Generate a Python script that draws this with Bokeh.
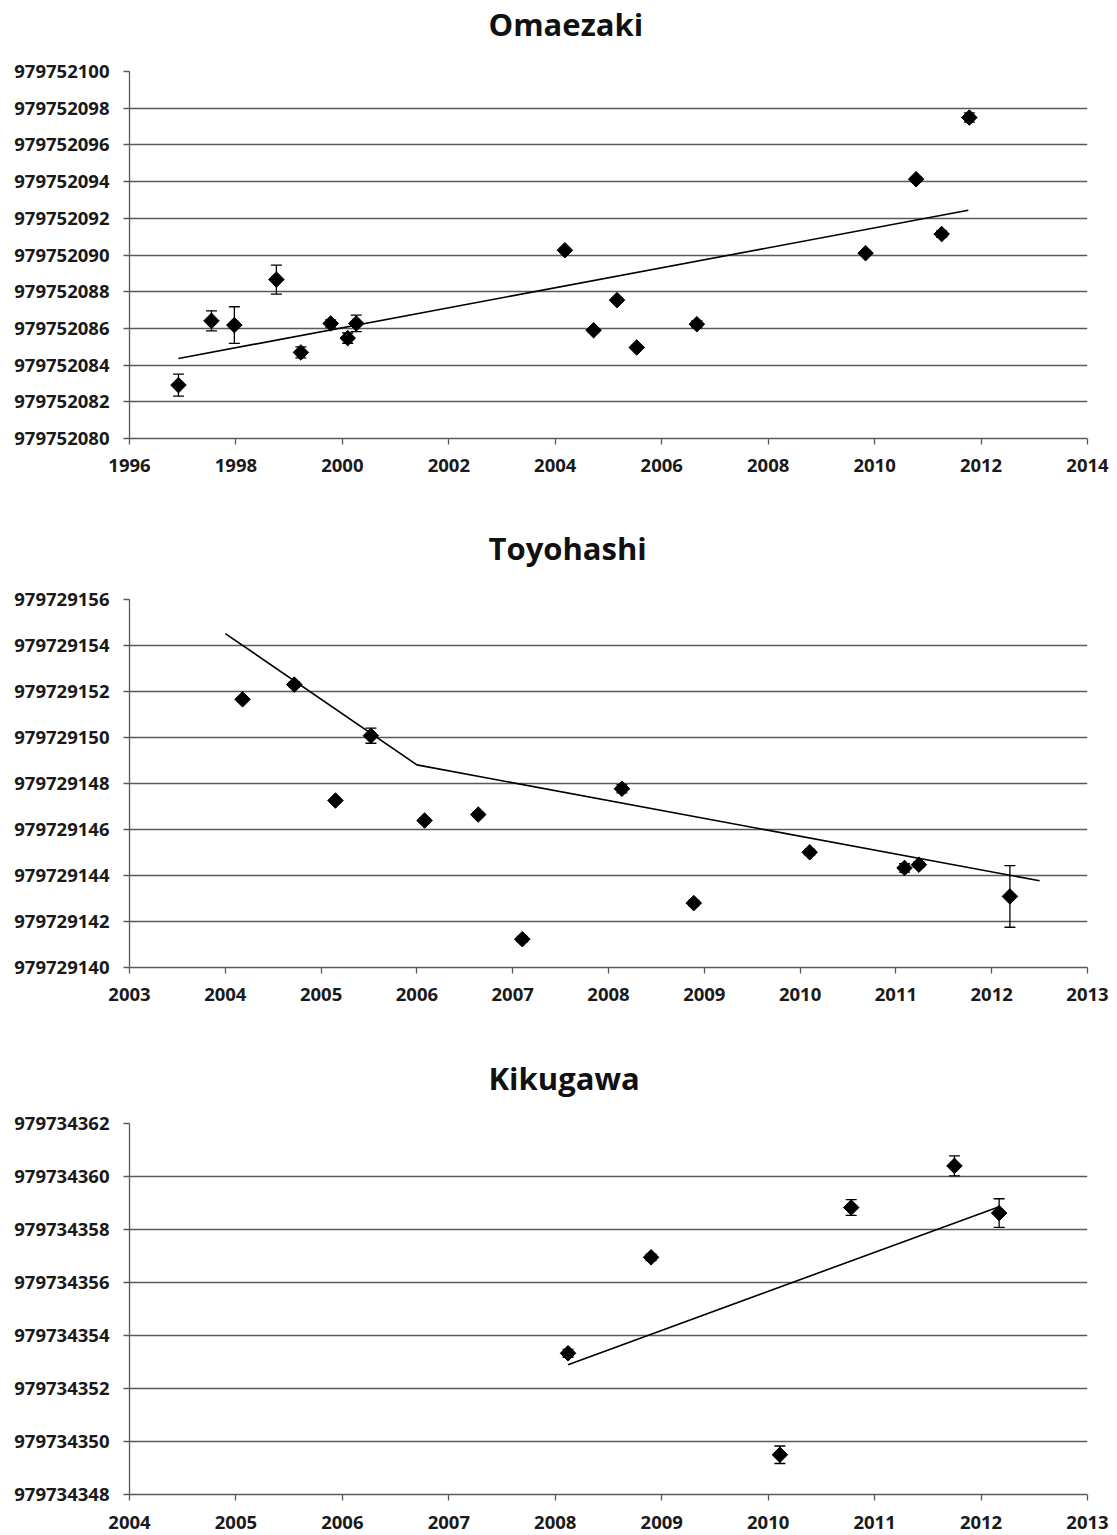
import numpy as np
from bokeh.plotting import figure
from bokeh.layouts import column
from bokeh.models import (Range1d, FixedTicker, NumeralTickFormatter, Whisker,
                          TeeHead, ColumnDataSource, LinearAxis)
from bokeh.embed import file_html
from bokeh.resources import INLINE

# ---------------- data ----------------
# Omaezaki
omaezaki_year = [1996.92, 1997.54, 1997.97, 1998.76, 1999.22, 1999.78, 2000.10, 2000.26,
                 2004.18, 2004.72, 2005.16, 2005.53, 2006.66, 2009.83, 2010.78, 2011.26, 2011.78]
omaezaki_g = [979752082.91, 979752086.41, 979752086.18, 979752088.66, 979752084.69,
              979752086.27, 979752085.47, 979752086.27, 979752090.26, 979752085.90,
              979752087.54, 979752084.96, 979752086.23, 979752090.10, 979752094.13,
              979752091.14, 979752097.49]
omaezaki_err = [0.60, 0.55, 1.00, 0.79, 0.30, 0.20, 0.28, 0.45, 0.12, 0.10,
                0.12, 0.10, 0.18, 0.12, 0.12, 0.18, 0.25]
omaezaki_fit_year = [1996.92, 2011.76]
omaezaki_fit_g = [979752084.36, 979752092.44]
omaezaki_xticks = [1996, 1998, 2000, 2002, 2004, 2006, 2008, 2010, 2012, 2014]
omaezaki_yticks = [979752080, 979752082, 979752084, 979752086, 979752088, 979752090,
                   979752092, 979752094, 979752096, 979752098, 979752100]

# Toyohashi
toyohashi_year = [2004.18, 2004.72, 2005.15, 2005.52, 2006.08, 2006.64, 2007.10,
                  2008.14, 2008.89, 2010.10, 2011.09, 2011.24, 2012.19]
toyohashi_g = [979729151.66, 979729152.30, 979729147.26, 979729150.08, 979729146.39,
               979729146.65, 979729141.23, 979729147.77, 979729142.80, 979729145.01,
               979729144.33, 979729144.47, 979729143.09]
toyohashi_err = [0.10, 0.12, 0.10, 0.33, 0.10, 0.10, 0.12, 0.18, 0.12, 0.12, 0.18, 0.12, 1.34]
toyohashi_fit_year = [2004.0, 2006.0, 2012.5]
toyohashi_fit_g = [979729154.52, 979729148.81, 979729143.77]
toyohashi_xticks = [2003, 2004, 2005, 2006, 2007, 2008, 2009, 2010, 2011, 2012, 2013]
toyohashi_yticks = [979729140, 979729142, 979729144, 979729146, 979729148,
                    979729150, 979729152, 979729154, 979729156]

# Kikugawa
kikugawa_year = [2008.12, 2008.90, 2010.11, 2010.78, 2011.75, 2012.17]
kikugawa_g = [979734353.33, 979734356.95, 979734349.50, 979734358.83, 979734360.40, 979734358.62]
kikugawa_err = [0.15, 0.12, 0.33, 0.30, 0.38, 0.54]
kikugawa_fit_year = [2008.12, 2012.17]
kikugawa_fit_g = [979734352.90, 979734358.86]
kikugawa_xticks = [2004, 2005, 2006, 2007, 2008, 2009, 2010, 2011, 2012, 2013]
kikugawa_yticks = [979734348, 979734350, 979734352, 979734354, 979734356,
                   979734358, 979734360, 979734362]

GRID = "#5a5a5a"
FONT = "Open Sans"


def make_fig(title, xs, ys, errs, fx, fy, xticks, yticks, frame_h, top, bottom,
             title_gap, xlab_standoff):
    p = figure(frame_width=958, frame_height=frame_h,
               x_range=Range1d(xticks[0], xticks[-1]),
               y_range=Range1d(yticks[0], yticks[-1]),
               output_backend="svg", toolbar_location=None,
               min_border_left=129, min_border_right=22,
               min_border_top=top, min_border_bottom=bottom,
               background_fill_color="white", border_fill_color="white")
    xaxis = p.below[0]
    yaxis = p.left[0]

    # invisible spacer between frame and title (pushes the title upward)
    spacer = LinearAxis(ticker=FixedTicker(ticks=[xticks[0]]), axis_line_color=None,
                        major_tick_out=title_gap, major_tick_in=0,
                        major_tick_line_color=None, minor_tick_line_color=None,
                        major_label_text_color=None, major_label_standoff=0,
                        major_label_text_font_size="1px")
    p.add_layout(spacer, "above")

    p.title.text = title
    p.title.align = "left"
    p.title.offset = 359
    p.title.text_font = FONT
    p.title.text_font_style = "bold"
    p.title.text_font_size = "31px"
    p.title.text_color = "#111111"
    p.title.standoff = 0

    p.outline_line_color = None
    p.xgrid.visible = False
    p.ygrid.grid_line_color = GRID
    p.ygrid.grid_line_width = 1.3

    xaxis.ticker = FixedTicker(ticks=xticks)
    yaxis.ticker = FixedTicker(ticks=yticks)
    xaxis.formatter = NumeralTickFormatter(format="0")
    yaxis.formatter = NumeralTickFormatter(format="0")
    for ax in (xaxis, yaxis):
        ax.axis_line_color = GRID
        ax.axis_line_width = 1.3
        ax.major_tick_line_color = GRID
        ax.major_tick_line_width = 1.3
        ax.major_tick_out = 6
        ax.major_tick_in = 0
        ax.minor_tick_line_color = None
        ax.major_label_text_font = FONT
        ax.major_label_text_font_style = "bold"
        ax.major_label_text_font_size = "18.5px"
        ax.major_label_text_color = "#1a1a1a"
    yaxis.major_label_standoff = 14
    xaxis.major_label_standoff = xlab_standoff

    src = ColumnDataSource(dict(
        x=xs, y=ys,
        lower=[v - e for v, e in zip(ys, errs)],
        upper=[v + e for v, e in zip(ys, errs)]))
    w = Whisker(source=src, base="x", lower="lower", upper="upper",
                dimension="height", line_color="black", line_width=1.3,
                upper_head=TeeHead(size=11, line_color="black", line_width=1.3),
                lower_head=TeeHead(size=11, line_color="black", line_width=1.3))
    p.add_layout(w)
    p.line(fx, fy, line_color="black", line_width=1.6)
    p.scatter("x", "y", source=src, marker="square", angle=np.pi / 4, size=11,
              fill_color="black", line_color="black")
    return p


p1 = make_fig("Omaezaki", omaezaki_year, omaezaki_g, omaezaki_err,
              omaezaki_fit_year, omaezaki_fit_g, omaezaki_xticks, omaezaki_yticks,
              367, 71, 60, 27, 14)
p2 = make_fig("Toyohashi", toyohashi_year, toyohashi_g, toyohashi_err,
              toyohashi_fit_year, toyohashi_fit_g, toyohashi_xticks, toyohashi_yticks,
              368, 101, 57, 31, 14)
p3 = make_fig("Kikugawa", kikugawa_year, kikugawa_g, kikugawa_err,
              kikugawa_fit_year, kikugawa_fit_g, kikugawa_xticks, kikugawa_yticks,
              371, 99, 41, 25, 15)

layout = column(p1, p2, p3, spacing=0)
open("out.html", "w").write(file_html(layout, INLINE))
